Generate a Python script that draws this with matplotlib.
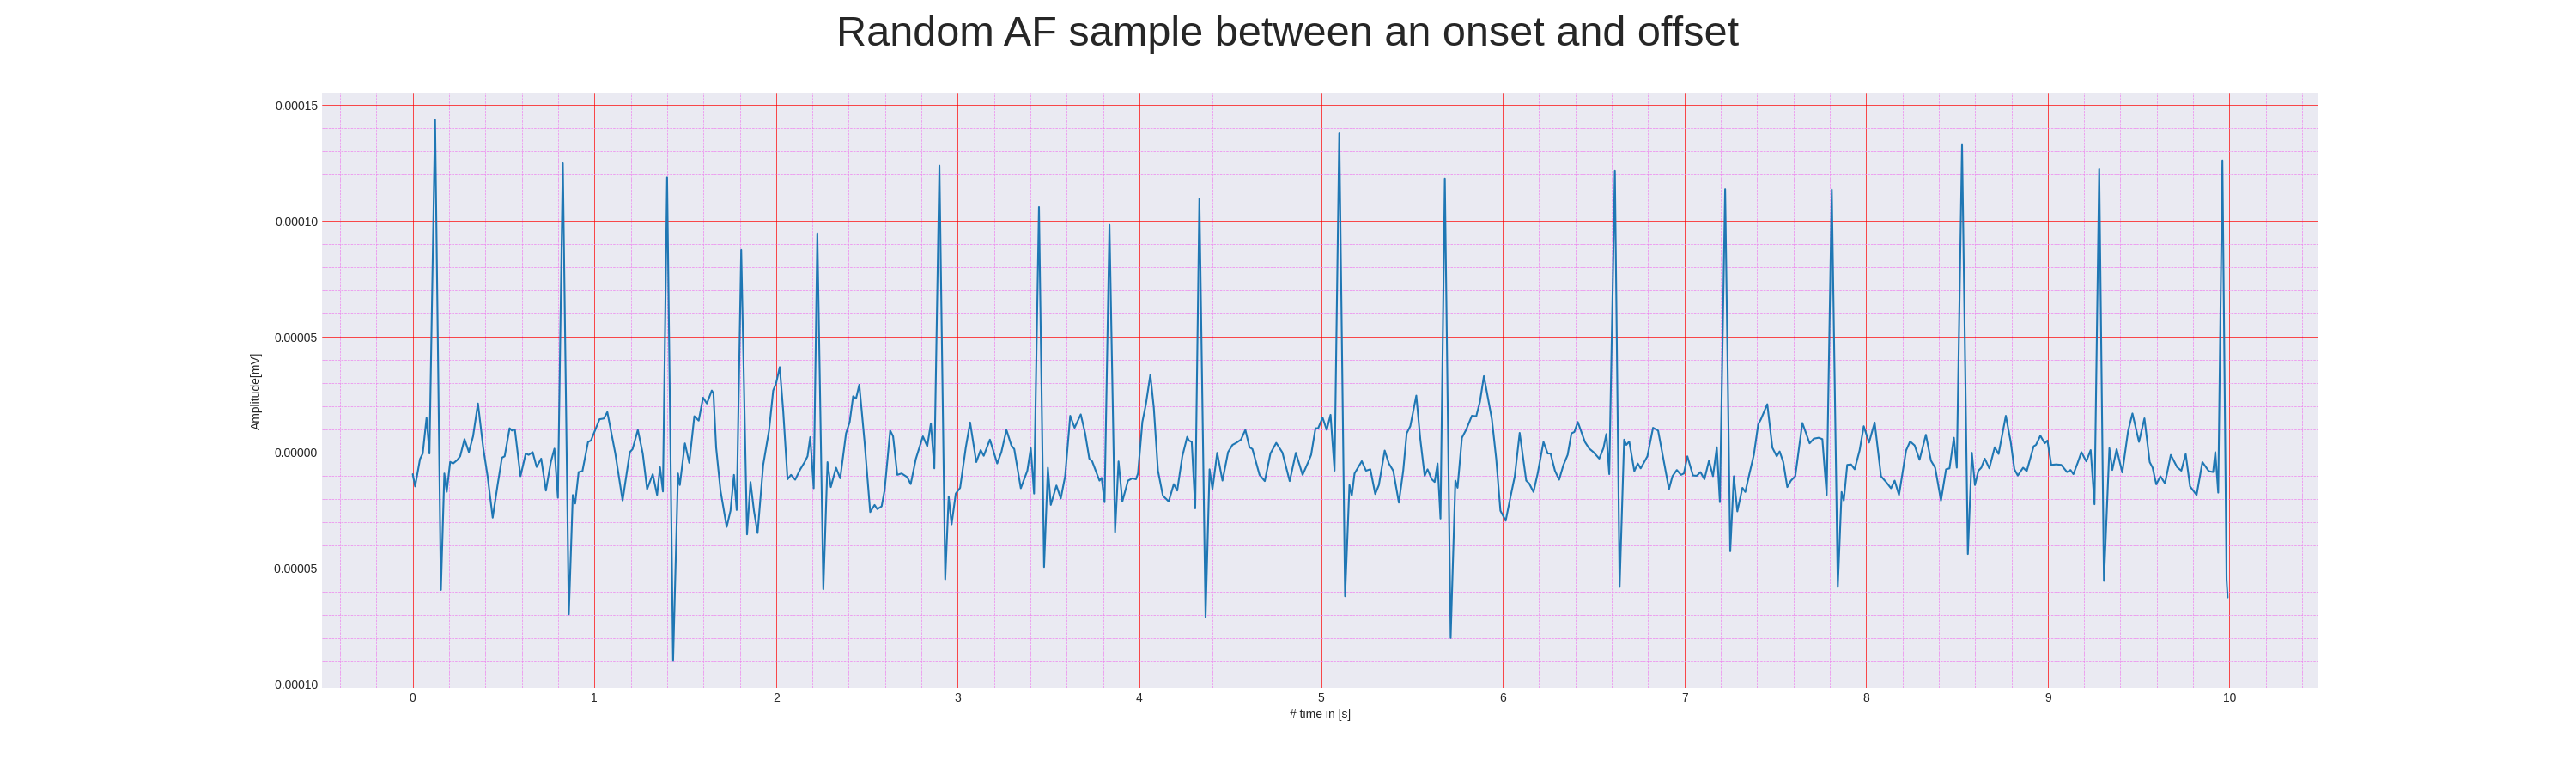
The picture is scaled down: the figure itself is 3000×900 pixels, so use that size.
import numpy as np
import matplotlib
matplotlib.use("Agg")
import matplotlib.pyplot as plt
from matplotlib.ticker import MultipleLocator

# ---- data (time in s, amplitude in units of 1e-5) ----
time_s = [
    0.000, 0.013, 0.040, 0.055, 0.076, 0.092, 0.123, 0.155, 0.174, 0.187, 0.206, 0.222, 0.245, 0.261,
    0.285, 0.309, 0.332, 0.359, 0.388, 0.412, 0.440, 0.467, 0.491, 0.506, 0.533, 0.546, 0.562, 0.593,
    0.622, 0.638, 0.660, 0.682, 0.707, 0.733, 0.760, 0.780, 0.799, 0.826, 0.859, 0.881, 0.894, 0.913,
    0.934, 0.965, 0.981, 1.028, 1.052, 1.071, 1.115, 1.155, 1.195, 1.210, 1.239, 1.266, 1.290, 1.321,
    1.345, 1.361, 1.377, 1.400, 1.433, 1.460, 1.470, 1.498, 1.522, 1.550, 1.574, 1.598, 1.619, 1.646,
    1.655, 1.670, 1.694, 1.728, 1.749, 1.768, 1.783, 1.808, 1.840, 1.859, 1.878, 1.898, 1.929, 1.945,
    1.961, 1.984, 2.000, 2.020, 2.039, 2.063, 2.082, 2.105, 2.133, 2.157, 2.173, 2.188, 2.207, 2.227,
    2.260, 2.283, 2.301, 2.330, 2.353, 2.385, 2.405, 2.424, 2.440, 2.458, 2.487, 2.518, 2.542, 2.557,
    2.581, 2.597, 2.628, 2.644, 2.667, 2.691, 2.722, 2.741, 2.769, 2.808, 2.832, 2.852, 2.871, 2.899,
    2.931, 2.950, 2.966, 2.989, 3.013, 3.044, 3.068, 3.102, 3.126, 3.143, 3.177, 3.217, 3.240, 3.268,
    3.295, 3.311, 3.347, 3.383, 3.402, 3.420, 3.447, 3.475, 3.496, 3.512, 3.543, 3.567, 3.591, 3.619,
    3.643, 3.677, 3.701, 3.724, 3.740, 3.780, 3.792, 3.808, 3.835, 3.866, 3.885, 3.906, 3.937, 3.961,
    3.981, 3.992, 4.016, 4.035, 4.060, 4.079, 4.102, 4.129, 4.161, 4.189, 4.208, 4.236, 4.263, 4.272,
    4.288, 4.307, 4.330, 4.364, 4.386, 4.402, 4.428, 4.457, 4.488, 4.512, 4.535, 4.559, 4.583, 4.606,
    4.622, 4.661, 4.690, 4.721, 4.753, 4.787, 4.827, 4.861, 4.898, 4.929, 4.945, 4.969, 4.984, 5.008,
    5.031, 5.052, 5.074, 5.100, 5.132, 5.156, 5.169, 5.184, 5.224, 5.247, 5.271, 5.298, 5.318, 5.350,
    5.373, 5.397, 5.428, 5.452, 5.471, 5.491, 5.524, 5.546, 5.570, 5.586, 5.609, 5.625, 5.641, 5.657,
    5.681, 5.713, 5.739, 5.751, 5.775, 5.798, 5.830, 5.854, 5.874, 5.896, 5.924, 5.940, 5.964, 5.987,
    6.016, 6.043, 6.066, 6.093, 6.129, 6.145, 6.169, 6.192, 6.224, 6.247, 6.263, 6.287, 6.310, 6.334,
    6.357, 6.378, 6.394, 6.413, 6.452, 6.476, 6.499, 6.531, 6.554, 6.570, 6.586, 6.617, 6.643, 6.668,
    6.680, 6.696, 6.724, 6.743, 6.759, 6.796, 6.827, 6.855, 6.884, 6.915, 6.934, 6.958, 6.981, 6.997,
    7.016, 7.047, 7.068, 7.088, 7.110, 7.135, 7.157, 7.178, 7.195, 7.224, 7.252, 7.272, 7.291, 7.319,
    7.335, 7.358, 7.382, 7.406, 7.421, 7.456, 7.484, 7.508, 7.524, 7.544, 7.566, 7.586, 7.610, 7.649,
    7.689, 7.712, 7.739, 7.759, 7.783, 7.811, 7.844, 7.865, 7.877, 7.896, 7.917, 7.937, 7.964, 7.987,
    8.016, 8.047, 8.082, 8.110, 8.137, 8.157, 8.181, 8.220, 8.242, 8.267, 8.294, 8.329, 8.357, 8.380,
    8.412, 8.440, 8.459, 8.483, 8.499, 8.528, 8.560, 8.582, 8.599, 8.618, 8.634, 8.653, 8.678, 8.708,
    8.729, 8.769, 8.796, 8.816, 8.835, 8.864, 8.884, 8.922, 8.935, 8.959, 8.983, 8.998, 9.019, 9.046,
    9.074, 9.106, 9.125, 9.141, 9.165, 9.185, 9.212, 9.236, 9.257, 9.283, 9.309, 9.339, 9.355, 9.379,
    9.410, 9.442, 9.466, 9.502, 9.532, 9.561, 9.577, 9.597, 9.620, 9.645, 9.677, 9.712, 9.735, 9.759,
    9.783, 9.819, 9.851, 9.886, 9.910, 9.922, 9.938, 9.961, 9.984, 9.990,
]
amplitude_e5 = [
    -0.93, -1.46, -0.28, -0.04, 1.50, -0.04, 14.36, -5.93, -0.90, -1.70, -0.40, -0.47, -0.32, -0.16,
    0.58, 0.02, 0.70, 2.12, 0.20, -1.02, -2.81, -1.40, -0.22, -0.16, 1.05, 0.95, 1.00, -1.02,
    -0.04, -0.10, 0.02, -0.62, -0.26, -1.64, -0.41, 0.17, -1.95, 12.49, -6.98, -1.83, -2.20, -0.84,
    -0.80, 0.46, 0.52, 1.44, 1.47, 1.75, -0.04, -2.07, 0.02, 0.15, 0.98, -0.04, -1.58, -0.93,
    -1.83, -0.63, -1.68, 11.88, -8.99, -0.90, -1.40, 0.40, -0.44, 1.57, 1.38, 2.37, 2.12, 2.68,
    2.56, 0.21, -1.64, -3.21, -2.51, -0.96, -2.48, 8.75, -3.53, -1.27, -2.51, -3.47, -0.53, 0.21,
    0.95, 2.68, 2.99, 3.69, 1.81, -1.15, -0.96, -1.17, -0.72, -0.41, -0.16, 0.67, -1.54, 9.46,
    -5.90, -0.41, -1.49, -0.65, -1.11, 0.83, 1.32, 2.43, 2.33, 2.93, 0.46, -2.57, -2.26, -2.44,
    -2.32, -1.64, 0.95, 0.70, -0.96, -0.90, -1.06, -1.36, -0.28, 0.70, 0.27, 1.26, -0.68, 12.39,
    -5.47, -1.89, -3.10, -1.77, -1.52, 0.21, 1.30, -0.41, 0.11, -0.14, 0.56, -0.47, 0.02, 0.98,
    0.31, 0.15, -1.54, -0.78, 0.19, -1.77, 10.60, -4.94, -0.65, -2.26, -1.42, -1.98, -1.02, 1.59,
    1.07, 1.65, 0.83, -0.26, -0.38, -1.21, -1.09, -2.14, 9.83, -3.43, -0.38, -2.11, -1.21, -1.11,
    -1.15, -0.90, 1.32, 2.06, 3.36, 1.94, -0.78, -1.86, -2.11, -1.36, -1.64, -0.16, 0.68, 0.52,
    0.46, -2.41, 10.96, -7.10, -0.72, -1.58, -0.01, -1.21, 0.02, 0.33, 0.43, 0.56, 0.98, 0.23,
    0.15, -0.96, -1.23, -0.04, 0.42, 0.00, -1.23, -0.01, -0.96, -0.41, -0.10, 1.05, 1.05, 1.51,
    0.98, 1.63, -0.78, 13.78, -6.20, -1.40, -1.86, -0.90, -0.37, -0.78, -0.72, -1.79, -1.40, 0.09,
    -0.47, -0.78, -2.16, -0.78, 0.83, 1.14, 2.46, 0.58, -1.00, -0.72, -1.15, -1.27, -0.47, -2.85,
    11.83, -8.00, -1.21, -1.52, 0.64, 0.98, 1.59, 1.57, 2.19, 3.30, 2.12, 1.44, -0.28, -2.51,
    -2.94, -1.89, -1.02, 0.85, -1.21, -1.33, -1.70, -0.90, 0.46, -0.04, -0.04, -0.78, -1.17, -0.53,
    -0.10, 0.83, 0.89, 1.32, 0.46, 0.17, 0.02, -0.26, 0.19, 0.80, -0.93, 12.16, -5.80, 0.56,
    0.33, 0.48, -0.80, -0.47, -0.68, -0.16, 1.07, 0.95, -0.28, -1.58, -1.02, -0.75, -0.96, -0.90,
    -0.16, -0.99, -1.00, -0.84, -1.15, -0.35, -1.02, 0.23, -2.14, 11.37, -4.26, -1.02, -2.54, -1.52,
    -1.70, -0.90, -0.10, 1.22, 1.44, 2.09, 0.21, -0.16, 0.05, -0.41, -1.49, -1.21, -1.02, 1.28,
    0.40, 0.60, 0.64, 0.58, -1.83, 11.35, -5.80, -1.70, -2.07, -0.53, -0.51, -0.72, 0.09, 1.14,
    0.43, 1.30, -1.02, -1.27, -1.54, -1.21, -1.83, 0.09, 0.48, 0.31, -0.31, 0.77, -0.35, -0.65,
    -2.07, -0.72, -0.68, 0.64, -0.65, 13.28, -4.38, -0.01, -1.40, -0.78, -0.65, -0.26, -0.68, 0.23,
    -0.06, 1.59, 0.46, -0.72, -0.99, -0.65, -0.80, 0.27, 0.33, 0.73, 0.40, 0.52, -0.53, -0.51,
    -0.53, -0.84, -0.75, -0.93, -0.43, 0.02, -0.38, 0.11, -2.23, 12.23, -5.54, 0.19, -0.75, 0.15,
    -0.86, 0.93, 1.69, 0.46, 1.48, -0.41, -0.65, -1.37, -1.02, -1.33, -0.10, -0.63, -0.78, -0.06,
    -1.46, -1.83, -0.41, -0.80, -0.84, 0.02, -1.73, 12.61, -5.50, -6.25,
]
amp_unit = 1e-5

title = "Random AF sample between an onset and offset"
x_label = "# time in [s]"
y_label = "Amplitude[mV]"

plt.style.use("seaborn-v0_8-darkgrid")
plt.rcParams["font.family"] = ["Liberation Sans", "DejaVu Sans"]

t = np.array(time_s)
y = np.array(amplitude_e5) * amp_unit

fig, ax = plt.subplots(figsize=(30, 9), dpi=100)
ax.plot(t, y, color="#1f77b4", linewidth=1.5)

ax.xaxis.set_major_locator(MultipleLocator(1))
ax.xaxis.set_minor_locator(MultipleLocator(0.2))
ax.yaxis.set_major_locator(MultipleLocator(0.00005))
ax.yaxis.set_minor_locator(MultipleLocator(0.00001))
ax.grid(which="major", linestyle="-", linewidth=0.5, color="red")
ax.grid(which="minor", linestyle="--", linewidth=0.5, color="violet")

ax.set_xlabel(x_label)
ax.set_ylabel(y_label)
fig.suptitle(title, fontsize=35)

fig.savefig("out.png", dpi=100)
